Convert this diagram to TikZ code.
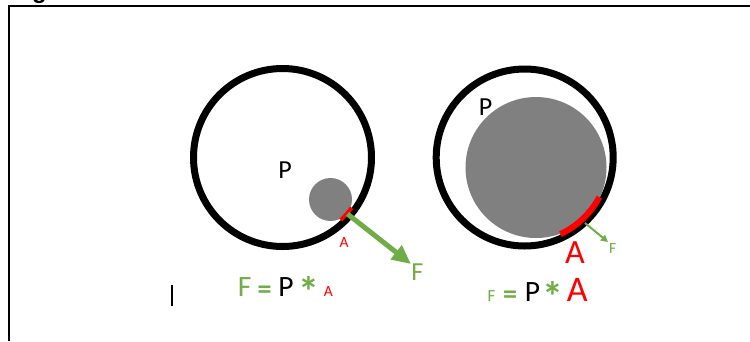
\documentclass[tikz,border=0pt]{standalone}
\usepackage{fontspec}
\setmainfont{Carlito}
\newfontfamily\capfont{Liberation Sans}
\usetikzlibrary{arrows.meta,calc}
\definecolor{fgreen}{HTML}{70AD47}
\definecolor{fred}{HTML}{FF0000}
\definecolor{fgray}{HTML}{808080}
\tikzset{
  ring/.style={draw=black,line width=7pt},
  blob/.style={fill=fgray},
  contact/.style={draw=fred,line width=4pt},
  lbl/.style={inner sep=0pt,anchor=base},
  fs/.style={font=\fontsize{#1}{#1}\selectfont}
}
\newcommand{\bigast}{\raisebox{-10pt}{\fontsize{42}{42}\selectfont\bfseries *}}
\newcommand{\bigeq}{\raisebox{-2pt}{\fontsize{28}{28}\selectfont\bfseries =}}
\begin{document}
\begin{tikzpicture}[x=1pt,y=-1pt]
\useasboundingbox (0,0) rectangle (750,341);
% frame
\draw[line width=2.2pt] (9,341) -- (9,6) -- (750,6);
\node[lbl,font=\capfont\bfseries\fontsize{24}{24}\selectfont] (cap) at (39.5,-1.5) {g};
% left circle
\coordinate (cL) at (282.5,157.5);
\draw[ring] (cL) circle[radius=89];
\fill[blob] (330.5,199.5) circle[radius=21.5];
\draw[contact] (cL) ++(36:85.5) arc[start angle=36,end angle=47,radius=85.5];
\coordinate (aL) at ($(cL)+(41:86)$);
\coordinate (tipL) at (411,264);
\draw[fgreen,line width=5pt,-{Triangle[length=19pt,width=17pt]}] (aL) -- (tipL);
\node[lbl,fs=26] (PL) at (285,178) {P};
\node[lbl,fs=15.5,text=fred] (AL) at (344,247) {A};
\node[lbl,fs=26,text=fgreen] (FL) at (417.3,280) {F};
% right circle
\coordinate (cR) at (524.7,157.5);
\draw[ring] (cR) circle[radius=88.5];
\fill[blob] (536,167.5) circle[radius=70.5];
\draw[draw=fred,line width=6pt] (cR) ++(28:84.5) arc[start angle=28,end angle=65,radius=84.5];
\coordinate (aR) at (585,223);
\coordinate (tipR) at (608,242);
\draw[fgreen,line width=2pt,-{Triangle[length=7pt,width=7pt]}] (aR) -- (tipR);
\node[lbl,fs=26] (PR) at (485.7,115) {P};
\node[lbl,fs=34,text=fred] (AR) at (575,263) {A};
\node[lbl,fs=15.5,text=fgreen] (FR) at (612.7,253) {F};
% left equation
\node[lbl,fs=29.5,text=fgreen] (e1F) at (244.7,296) {F};
\node[lbl,text=fgreen] (e1eq) at (264.7,296) {\bigeq};
\node[lbl,fs=29.5] (e1P) at (286,296) {P};
\node[lbl,text=fgreen] (e1s) at (309.3,296) {\bigast};
\node[lbl,fs=15.5,text=fred] (e1A) at (328.3,296) {A};
% right equation
\node[lbl,fs=17,text=fgreen] (e2F) at (491.5,301.7) {F};
\node[lbl,text=fgreen] (e2eq) at (510,301.7) {\bigeq};
\node[lbl,fs=29.5] (e2P) at (532.5,301.7) {P};
\node[lbl,text=fgreen] (e2s) at (553.3,301.7) {\bigast};
\node[lbl,fs=36,text=fred] (e2A) at (577.3,301.7) {A};
% text cursor
\coordinate (cur1) at (172,285);
\coordinate (cur2) at (172,306);
\draw[line width=1.3pt] (cur1) -- (cur2);
\end{tikzpicture}
\end{document}
